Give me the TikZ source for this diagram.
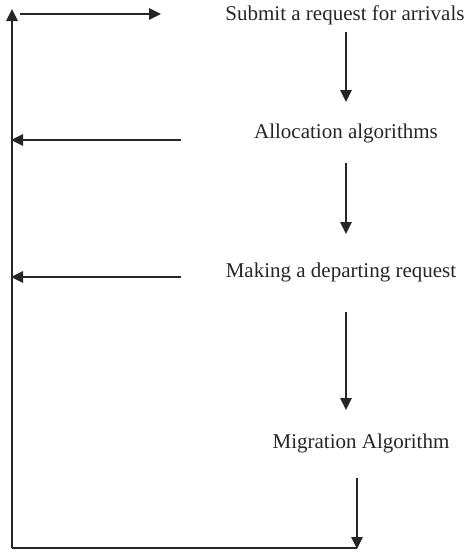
\documentclass[tikz,border=0pt]{standalone}
\usepackage{fontspec}
\setmainfont{Liberation Serif}
\usetikzlibrary{arrows.meta}
\begin{document}
\begin{tikzpicture}[x=1pt,y=-1pt,
  lbl/.style={font=\fontsize{21}{23}\selectfont, inner sep=0pt, anchor=center, text=black!85},
  ln/.style={line width=1.4pt, draw=black!85},
  arr/.style={ln, -{Triangle[length=12pt,width=11.5pt]}}]
\useasboundingbox (0,0) rectangle (469,557);
% labels
\node[lbl] (s) at (345,15) {Submit a request for arrivals};
\node[lbl] (a) at (346,133) {Allocation algorithms};
\node[lbl] (m) at (341,272) {Making a departing request};
\node[lbl] (g) at (361,443) {Migration Algorithm};
% coordinates
\coordinate (L0) at (12,548);
\coordinate (Ltop) at (12,9);
\coordinate (T0) at (20,14);
\coordinate (T1) at (161,14);
\coordinate (A0) at (181,140);
\coordinate (A1) at (11,140);
\coordinate (M0) at (181,277);
\coordinate (M1) at (11,277);
\coordinate (d1a) at (346,32);
\coordinate (d1b) at (346,102);
\coordinate (d2a) at (346,163);
\coordinate (d2b) at (346,234);
\coordinate (d3a) at (346,312);
\coordinate (d3b) at (346,410);
\coordinate (d4a) at (357,478);
\coordinate (d4b) at (357,549);
% connectors
\draw[arr] (L0) -- (Ltop);
\draw[arr] (T0) -- (T1);
\draw[arr] (A0) -- (A1);
\draw[arr] (M0) -- (M1);
\draw[arr] (d1a) -- (d1b);
\draw[arr] (d2a) -- (d2b);
\draw[arr] (d3a) -- (d3b);
\draw[arr] (d4a) -- (d4b);
\draw[ln] (L0) -- (d4b |- L0);
\end{tikzpicture}
\end{document}
